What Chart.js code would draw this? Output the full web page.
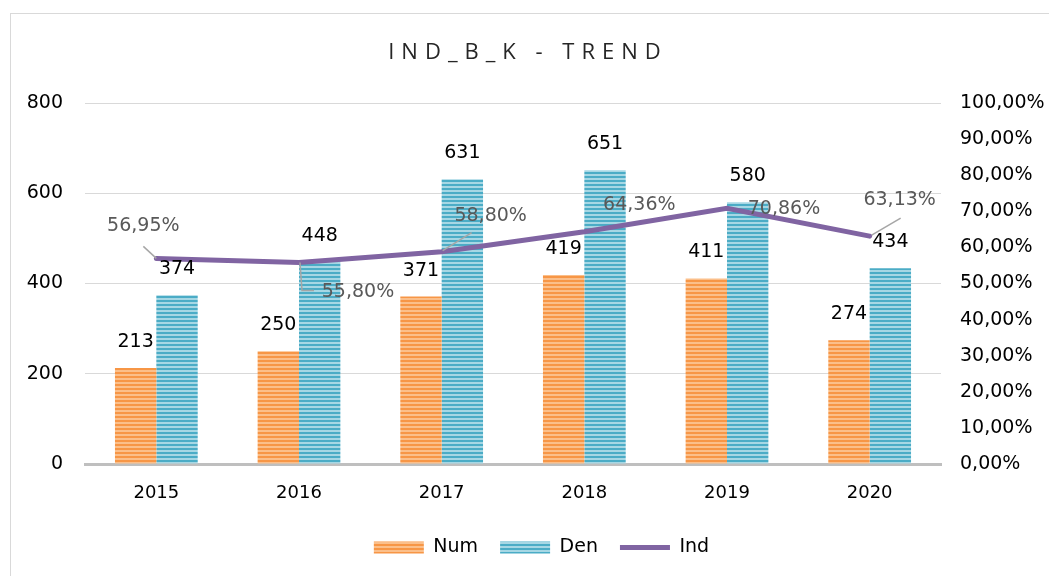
<!DOCTYPE html>
<html>
<head>
<meta charset="utf-8">
<script src="https://cdn.jsdelivr.net/npm/chart.js@4/dist/chart.umd.min.js"></script>
<style>
  html, body { margin: 0; padding: 0; background: #fff; overflow: hidden; }
  #wrap { position: relative; width: 1049px; height: 576px; }
  #frame { position: absolute; left: 10px; top: 13px; width: 1100px; height: 600px; border: 1px solid #d9d9d9; pointer-events: none; }
</style>
</head>
<body>
<div id="wrap">
  <canvas id="trendChart" width="1049" height="576"></canvas>
  <div id="frame"></div>
</div>
<script>
const years = ['2015', '2016', '2017', '2018', '2019', '2020'];
const numValues = [213, 250, 371, 419, 411, 274];
const denValues = [374, 448, 631, 651, 580, 434];
const indValues = [0.5695, 0.5580, 0.5880, 0.6436, 0.7086, 0.6313];

// where each Ind label sits relative to its point, and its leader line (px)
const indLabelOffsets = [
  { dx: -13, dy: -32, lead: [[-13, -12], [0, 0]] },
  { dx: 59, dy: 30, lead: [[1, 0], [3, 28], [15, 28]] },
  { dx: 49, dy: -36, lead: [[1, -1], [30, -19]] },
  { dx: 55, dy: -27, lead: null },
  { dx: 57, dy: 1, lead: null },
  { dx: 30, dy: -36, lead: [[2, -1], [31, -18]] }
];

const FONT = '"DejaVu Sans", "Open Sans", sans-serif';
const TITLE_FONT = '"Open Sans", "Noto Sans", sans-serif';

function stripes(dark, light) {
  const c = document.createElement('canvas');
  c.width = 8;
  c.height = 4;
  const g = c.getContext('2d');
  g.fillStyle = dark;
  g.fillRect(0, 0, 8, 4);
  g.fillStyle = light;
  g.fillRect(0, 2, 8, 2);
  return g.createPattern(c, 'repeat');
}

const orangeFill = stripes('#f79646', '#fbbf8a');
const blueFill = stripes('#4bacc6', '#a6d7e4');

function pct(v) {
  return (v * 100).toFixed(2).replace('.', ',') + '%';
}

const labelPlugin = {
  id: 'labelPlugin',
  afterLayout(chart) {
    // legend in the original sits a little right of the canvas centre
    chart.legend.left += 17;
    chart.legend.right += 17;
  },
  afterDatasetsDraw(chart) {
    const ctx = chart.ctx;
    ctx.save();
    ctx.textAlign = 'center';
    ctx.textBaseline = 'middle';
    ctx.font = '19px ' + FONT;
    ctx.fillStyle = '#000';
    [0, 1].forEach(di => {
      chart.getDatasetMeta(di).data.forEach((bar, i) => {
        ctx.fillText(String(chart.data.datasets[di].data[i]), bar.x, bar.y - 26);
      });
    });
    const lineMeta = chart.getDatasetMeta(2);
    lineMeta.data.forEach((pt, i) => {
      const o = indLabelOffsets[i];
      if (o.lead) {
        ctx.strokeStyle = '#a6a6a6';
        ctx.lineWidth = 1.5;
        ctx.beginPath();
        o.lead.forEach((p, k) => {
          if (k === 0) ctx.moveTo(pt.x + p[0], pt.y + p[1]);
          else ctx.lineTo(pt.x + p[0], pt.y + p[1]);
        });
        ctx.stroke();
      }
      ctx.fillStyle = '#595959';
      ctx.fillText(pct(indValues[i]), pt.x + o.dx, pt.y + o.dy);
    });
    ctx.restore();
  },
  afterDraw(chart) {
    const ctx = chart.ctx;
    ctx.save();
    ctx.font = '22px ' + TITLE_FONT;
    ctx.fillStyle = '#262626';
    ctx.textAlign = 'center';
    ctx.textBaseline = 'middle';
    ctx.letterSpacing = '7px';
    ctx.fillText('IND_B_K - TREND', 528, 53);
    ctx.restore();
  }
};

new Chart(document.getElementById('trendChart'), {
  type: 'bar',
  data: {
    labels: years,
    datasets: [
      {
        label: 'Num',
        data: numValues,
        backgroundColor: orangeFill,
        borderWidth: 0,
        pointStyle: 'rect',
        yAxisID: 'y',
        order: 0
      },
      {
        label: 'Den',
        data: denValues,
        backgroundColor: blueFill,
        borderWidth: 0,
        pointStyle: 'rect',
        yAxisID: 'y',
        order: 0
      },
      {
        type: 'line',
        label: 'Ind',
        data: indValues,
        borderColor: '#8064a2',
        backgroundColor: '#8064a2',
        borderWidth: 5,
        borderCapStyle: 'round',
        pointRadius: 0,
        pointStyle: 'line',
        tension: 0,
        yAxisID: 'y1',
        order: -1
      }
    ]
  },
  options: {
    responsive: false,
    animation: false,
    events: [],
    layout: { padding: { top: 103, bottom: 9, left: 0, right: 0 } },
    datasets: {
      bar: { categoryPercentage: 0.58, barPercentage: 1 }
    },
    scales: {
      x: {
        grid: { display: false, drawTicks: false },
        border: { display: true, color: '#bfbfbf', width: 3 },
        ticks: { color: '#000', padding: 19, font: { family: FONT, size: 18 } },
        afterFit(s) { s.height = 52; }
      },
      y: {
        position: 'left',
        min: 0,
        max: 800,
        ticks: { stepSize: 200, color: '#000', padding: 22, font: { family: FONT, size: 19 } },
        grid: { color: '#d9d9d9', lineWidth: 1, drawTicks: false },
        border: { display: false },
        afterFit(s) { s.width = 85; }
      },
      y1: {
        position: 'right',
        min: 0,
        max: 1,
        ticks: {
          stepSize: 0.1,
          color: '#000',
          padding: 19,
          font: { family: FONT, size: 19 },
          callback: v => pct(v)
        },
        grid: { display: false, drawTicks: false },
        border: { display: false },
        afterFit(s) { s.width = 108; }
      }
    },
    plugins: {
      title: { display: false },
      tooltip: { enabled: false },
      legend: {
        position: 'bottom',
        labels: {
          usePointStyle: true,
          pointStyleWidth: 50,
          boxHeight: 12,
          padding: 22,
          color: '#000',
          font: { family: FONT, size: 19 },
          sort: (a, b) => a.datasetIndex - b.datasetIndex
        }
      }
    }
  },
  plugins: [labelPlugin]
});
</script>
</body>
</html>
